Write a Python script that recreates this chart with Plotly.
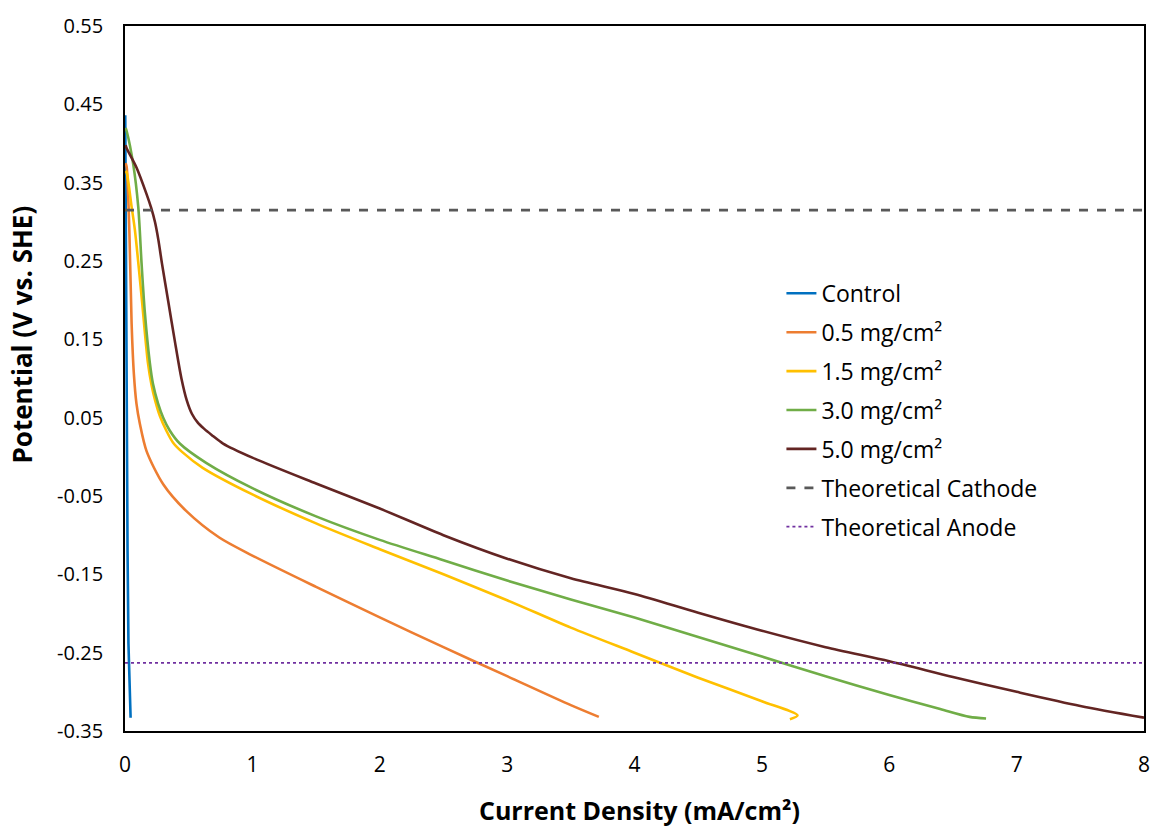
import plotly.graph_objects as go

# ---- data ----
control_x = [0.002, 0.008, 0.014, 0.020, 0.027, 0.044]
control_y = [0.436, 0.20, 0.02, -0.12, -0.238, -0.333]

c05_x = [0.005, 0.013, 0.034, 0.052, 0.07, 0.09, 0.117, 0.17, 0.30, 0.48, 0.74, 1.0, 1.5, 2.0, 2.5, 3.0, 3.5, 3.72]
c05_y = [0.375, 0.370, 0.290, 0.170, 0.105, 0.068, 0.042, 0.007, -0.035, -0.069, -0.103, -0.126, -0.166, -0.205, -0.243, -0.280, -0.317, -0.332]

c15_x = [0.005, 0.013, 0.052, 0.078, 0.13, 0.18, 0.208, 0.235, 0.274, 0.326, 0.378, 0.45, 0.61, 1.0, 1.5, 2.0, 2.5, 3.0, 3.5, 4.0, 4.5, 5.0, 5.28, 5.22]
c15_y = [0.365, 0.363, 0.319, 0.289, 0.205, 0.120, 0.092, 0.073, 0.052, 0.033, 0.018, 0.006, -0.014, -0.048, -0.085, -0.118, -0.150, -0.183, -0.218, -0.250, -0.282, -0.312, -0.330, -0.335]

c30_x = [0.005, 0.013, 0.065, 0.104, 0.13, 0.156, 0.195, 0.22, 0.26, 0.30, 0.35, 0.43, 0.64, 1.0, 1.5, 2.0, 2.5, 3.0, 3.5, 4.0, 4.5, 5.0, 5.5, 6.0, 6.4, 6.63, 6.76]
c30_y = [0.420, 0.416, 0.373, 0.319, 0.247, 0.184, 0.120, 0.093, 0.068, 0.050, 0.034, 0.017, -0.008, -0.040, -0.076, -0.106, -0.132, -0.158, -0.182, -0.205, -0.230, -0.255, -0.280, -0.304, -0.322, -0.332, -0.334]

c50_x = [0.005, 0.013, 0.091, 0.170, 0.205, 0.235, 0.262, 0.290, 0.339, 0.391, 0.443, 0.485, 0.525, 0.57, 0.62, 0.68, 0.77, 1.0, 1.5, 2.0, 2.5, 3.0, 3.5, 4.0, 4.5, 5.0, 5.5, 6.0, 6.5, 7.0, 7.5, 8.0]
c50_y = [0.398, 0.394, 0.369, 0.335, 0.318, 0.300, 0.277, 0.247, 0.199, 0.148, 0.100, 0.072, 0.055, 0.044, 0.036, 0.028, 0.017, -0.001, -0.034, -0.066, -0.100, -0.130, -0.155, -0.175, -0.199, -0.222, -0.243, -0.261, -0.281, -0.300, -0.318, -0.333]

theo_cathode = 0.315
theo_anode = -0.263
line_x = [0, 8]

x_ticks = [0, 1, 2, 3, 4, 5, 6, 7, 8]
y_ticks = [-0.35, -0.25, -0.15, -0.05, 0.05, 0.15, 0.25, 0.35, 0.45, 0.55]
y_ticktext = ["-0.35", "-0.25", "-0.15", "-0.05", "0.05", "0.15", "0.25", "0.35", "0.45", "0.55"]

x_title = "Current Density (mA/cm²)"
y_title = "Potential (V vs. SHE)"

series = [
    ("Control", control_x, control_y, "#0070C0", "linear"),
    ("0.5 mg/cm²", c05_x, c05_y, "#ED7D31", "spline"),
    ("1.5 mg/cm²", c15_x, c15_y, "#FFC000", "spline"),
    ("3.0 mg/cm²", c30_x, c30_y, "#70AD47", "spline"),
    ("5.0 mg/cm²", c50_x, c50_y, "#632523", "spline"),
]

fig = go.Figure()
for i, (name, xs, ys, col, shape) in enumerate(series):
    fig.add_trace(go.Scatter(x=xs, y=ys, mode="lines", name=name,
                             legendgroup=f"g{i}",
                             line=dict(color=col, width=2.6, shape=shape, smoothing=0.8)))

fig.add_trace(go.Scatter(x=line_x, y=[theo_cathode, theo_cathode], mode="lines",
                         name="Theoretical Cathode", legendgroup="g5",
                         line=dict(color="#595959", width=2.8, dash="dash")))
fig.add_trace(go.Scatter(x=line_x, y=[theo_anode, theo_anode], mode="lines",
                         name="Theoretical Anode", legendgroup="g6",
                         line=dict(color="#7030A0", width=1.8, dash="dot")))

font_family = "Open Sans, DejaVu Sans, sans-serif"
title_family = "Open Sans, DejaVu Sans, sans-serif"

PLOT_L, PLOT_R, PLOT_T, PLOT_B = 125, 1148, 17, 731
W, H = 1162, 829

fig.update_layout(
    width=W, height=H,
    margin=dict(l=PLOT_L, r=W - PLOT_R, t=PLOT_T, b=H - PLOT_B),
    plot_bgcolor="white", paper_bgcolor="white",
    font=dict(family=font_family, color="#000000"),
    showlegend=True,
    legend=dict(x=(784 - PLOT_L) / (PLOT_R - PLOT_L), y=(PLOT_B - 266) / (PLOT_B - PLOT_T),
                xanchor="left", yanchor="top",
                font=dict(size=23, family=font_family, color="#000000"),
                traceorder="grouped", tracegroupgap=6,
                bgcolor="rgba(0,0,0,0)"),
    xaxis=dict(range=[0, 8], tickvals=x_ticks, showgrid=False, zeroline=False,
               showline=True, linecolor="black", linewidth=1.8, mirror=True,
               ticks="", ticklabelstandoff=14, tickfont=dict(size=21, color="#000000")),
    yaxis=dict(range=[-0.35, 0.55], tickvals=y_ticks, ticktext=y_ticktext,
               showgrid=False, zeroline=False,
               showline=True, linecolor="black", linewidth=1.8, mirror=True,
               ticks="", ticklabelstandoff=16, tickfont=dict(size=20, color="#000000")),
    annotations=[
        dict(text=f"<b>{x_title}</b>", xref="paper", yref="paper",
             x=(642 - PLOT_L) / (PLOT_R - PLOT_L), y=(PLOT_B - 811) / (PLOT_B - PLOT_T),
             xanchor="center", yanchor="middle", showarrow=False,
             font=dict(size=25, family=title_family, color="#000000")),
        dict(text=f"<b>{y_title}</b>", xref="paper", yref="paper", textangle=-90,
             x=(22 - PLOT_L) / (PLOT_R - PLOT_L), y=(PLOT_B - 329) / (PLOT_B - PLOT_T),
             xanchor="center", yanchor="middle", showarrow=False,
             font=dict(size=26, family=title_family, color="#000000")),
    ],
)

fig.write_html("out.html")
